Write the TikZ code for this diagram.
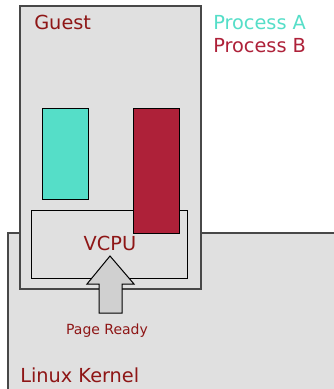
\documentclass[tikz,border=0pt]{standalone}
\usepackage{fontspec}
\setmainfont{DejaVu Sans}
\usepackage{xcolor}
\definecolor{boxgray}{HTML}{E0E0E0}
\definecolor{arrowgray}{HTML}{D0D0D0}
\definecolor{edgegray}{HTML}{484848}
\definecolor{labelred}{HTML}{8E1616}
\definecolor{procA}{HTML}{55DEC8}
\definecolor{procB}{HTML}{AE2139}

\begin{document}
\begin{tikzpicture}[x=0.75pt,y=-0.75pt]
\tikzset{
  area/.style={fill=boxgray, draw=edgegray, line width=0.9pt},
  proc/.style={draw=black, line width=0.75pt},
  lbl/.style={font=\fontsize{14.5}{17}\selectfont, inner sep=0pt},
}
\clip (0,0) rectangle (334,389);
\fill[white] (0,0) rectangle (334,389);
% kernel and guest
\draw[area] (8,233) rectangle (345,400);
\draw[area] (20,6) rectangle (201,289);
% vcpu frame, process boxes on top
\draw[black, line width=0.75pt] (31,210) rectangle (187,278);
\draw[proc, fill=procA] (42,108) rectangle (88,199);
\draw[proc, fill=procB] (133,108) rectangle (179,233);
% page ready arrow
\draw[black, line width=0.75pt, fill=arrowgray]
  (110,256) -- (134,284) -- (122,284) -- (122,313) -- (99,313) -- (99,284) -- (87,284) -- cycle;
% labels
\node[lbl, anchor=base west, text=labelred] (guest) at (34,29) {Guest};
\node[lbl, anchor=base west, text=procA] (pa) at (213,29) {Process A};
\node[lbl, anchor=base west, text=procB] (pb) at (213,52) {Process B};
\node[lbl, anchor=base, text=labelred] (vcpu) at (110,250) {VCPU};
\node[anchor=base, inner sep=0pt, text=labelred, font=\fontsize{10.5}{12}\selectfont] (ready) at (107,334) {Page Ready};
\node[lbl, anchor=base west, text=labelred] (kernel) at (20,382) {Linux Kernel};
\end{tikzpicture}
\end{document}
